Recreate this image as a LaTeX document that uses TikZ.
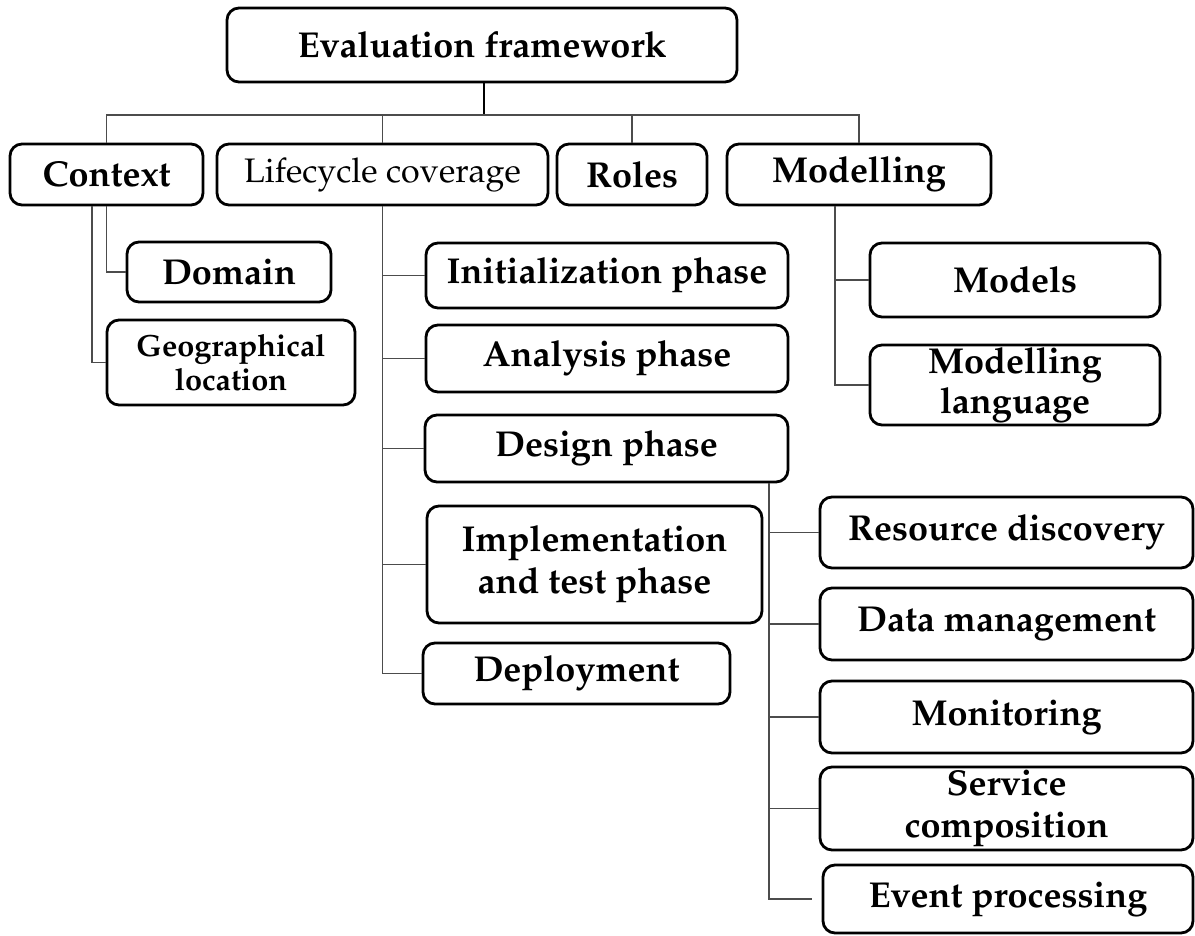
\documentclass[tikz,border=0pt]{standalone}
\usepackage[T1]{fontenc}
\usepackage{mathpazo}
\usepackage{tikz}
\usetikzlibrary{calc}

\tikzset{
  box/.style={draw, line width=2.1pt, rounded corners=9pt, align=center,
    inner sep=1pt, font=\bfseries\fontsize{27}{31}\selectfont},
  sz/.style 2 args={minimum width=#1*0.75pt, minimum height=#2*0.75pt},
  link/.style={draw=black!70, line width=1.2pt},
  trunk/.style={draw=black, line width=2pt},
}

\begin{document}
\begin{tikzpicture}[x=0.75pt, y=-0.75pt]
  \useasboundingbox (0,0) rectangle (1195,935);
  % top and first row
  \node[box, sz={510}{74}] (eval) at (482,45) {Evaluation framework};
  \node[box, sz={193}{61}] (context) at (106.5,174.5) {Context};
  \node[box, sz={331}{61},
    font=\mdseries\fontsize{25.5}{30}\selectfont] (lifecycle) at (382.5,174.5) {Lifecycle coverage};
  \node[box, sz={150}{61}] (roles) at (632,174.5) {Roles};
  \node[box, sz={264}{61}] (modelling) at (859,174.5) {Modelling};
  % context
  \node[box, sz={204}{60}] (domain) at (229,272) {Domain};
  \node[box, sz={248}{85},
    font=\bfseries\fontsize{23}{26}\selectfont] (geo) at (231,362.5) {Geographical\\location};
  % lifecycle
  \node[box, sz={362}{65}] (init) at (607,275.5) {Initialization phase};
  \node[box, sz={362}{67}] (analysis) at (607,358.5) {Analysis phase};
  \node[box, sz={363}{67}] (design) at (606.5,448.5) {Design phase};
  \node[box, sz={335}{117},
    font=\bfseries\fontsize{27}{31.5}\selectfont] (impl) at (594.5,564.5) {Implementation\\and test phase};
  \node[box, sz={307}{61}] (deploy) at (576.5,673.5) {Deployment};
  % modelling
  \node[box, sz={290}{74}] (models) at (1015,280) {Models};
  \node[box, sz={290}{80},
    font=\bfseries\fontsize{27}{30}\selectfont] (mlang) at (1015,385) {Modelling\\language};
  % design
  \node[box, sz={373}{71}] (res) at (1006.5,532.5) {Resource discovery};
  \node[box, sz={373}{72}] (data) at (1006.5,624) {Data management};
  \node[box, sz={373}{72}] (mon) at (1006.5,717) {Monitoring};
  \node[box, sz={373}{83},
    font=\bfseries\fontsize{27}{32}\selectfont] (serv) at (1006.5,808.5) {Service\\composition};
  \node[box, sz={370}{68}] (event) at (1008,899) {Event processing};

  \coordinate (bus) at (484,115);
  \coordinate (cx) at (92,0);
  \coordinate (mx) at (835,0);
  \coordinate (dx) at (769,0);

  \draw[trunk] (eval.south -| bus) -- (bus);
  \draw[link] (context.north) |- (bus) -| (modelling.north);
  \draw[link] (lifecycle.north) -- (lifecycle.north |- bus);
  \draw[link] (roles.north) -- (roles.north |- bus);

  \draw[link] (context.south) |- (domain.west);
  \draw[link] (context.south -| cx) |- (geo.west);

  \draw[link] (lifecycle.south) |- (deploy.west);
  \foreach \n in {init,analysis,design,impl}
    \draw[link] (lifecycle.south |- \n.west) -- (\n.west);

  \draw[link] (modelling.south -| mx) |- (mlang.west);
  \draw[link] (mx |- models.west) -- (models.west);

  \draw[link, shorten >=7.5pt] (design.south -| dx) |- (event.west);
  \foreach \n in {res,data,mon,serv}
    \draw[link] (dx |- \n.west) -- (\n.west);
\end{tikzpicture}
\end{document}
